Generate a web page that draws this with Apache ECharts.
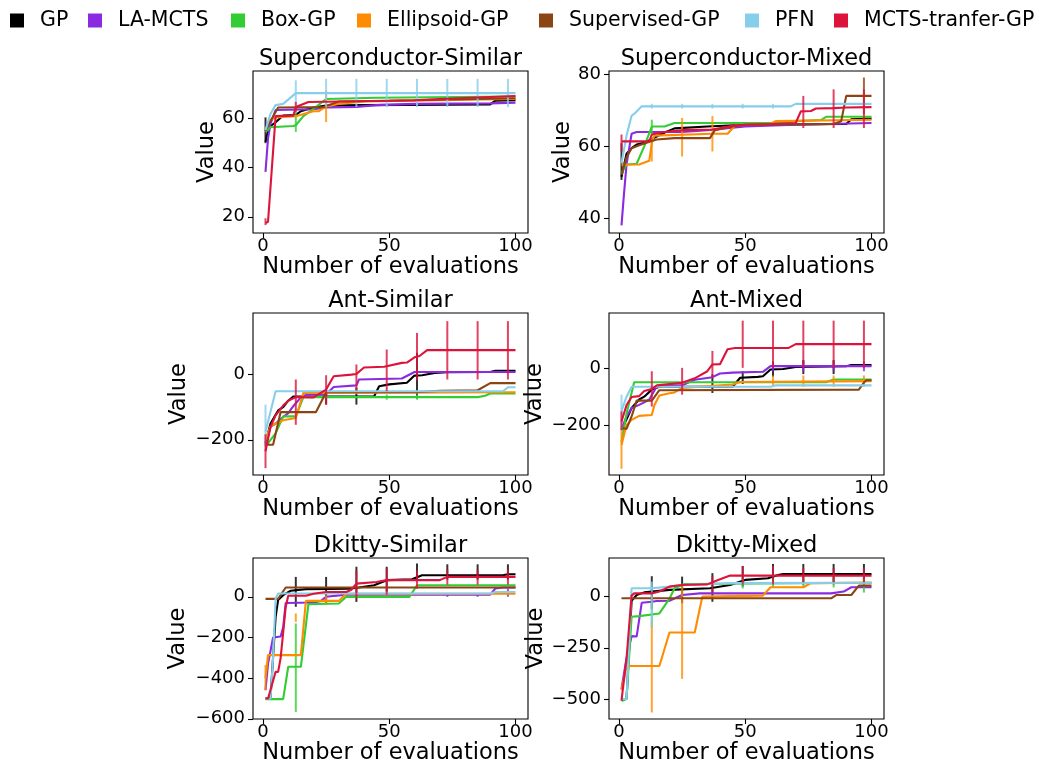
<!DOCTYPE html>
<html>
<head>
<meta charset="utf-8">
<script src="https://cdn.jsdelivr.net/npm/echarts@6/dist/echarts.min.js"></script>
<style>html,body{margin:0;padding:0;background:#fff}#c{width:1054px;height:769px}</style>
</head>
<body>
<div id="c"></div>
<script>
// ---------- labels ----------
const methods = ['GP','LA-MCTS','Box-GP','Ellipsoid-GP','Supervised-GP','PFN','MCTS-tranfer-GP'];
const titles = ['Superconductor-Similar','Superconductor-Mixed','Ant-Similar','Ant-Mixed','Dkitty-Similar','Dkitty-Mixed'];
const xTicks = [0, 50, 100];
const yTicks = [[20,40,60],[40,60,80],[-200,0],[-200,0],[-600,-400,-200,0],[-500,-250,0]];
const xRange = [-3.95, 104.95];
const yRanges = [[13.4,79.4],[36.0,80.9],[-308,189],[-377,196],[-601,191],[-598,189]];

// ---------- Superconductor-Similar ----------
const scs_GP = [[1,50.5],[2,55],[3,57],[5,58.5],[8,61.3],[13,61.5],[15,63],[20,64.5],[25,65.3],[40,65.5],[90,65.8],[92,67.3],[100,67.5]];
const scs_LA = [[1,38.3],[2,52],[3,58],[5,63.5],[20,63.8],[25,64.5],[37,64.8],[45,65.5],[60,66],[90,66.2],[100,66.5]];
const scs_Box = [[1,54.5],[3,56.5],[12,57],[13,57.3],[16,61],[20,64],[25,68],[45,68.5],[100,69]];
const scs_Ell = [[1,55.5],[3,59.5],[5,60.5],[13,61],[20,63],[22,63],[25,65],[30,66],[40,67],[70,67.5],[100,68]];
const scs_Sup = [[1,55],[3,59],[6,64.5],[24,64.7],[30,67],[60,67.5],[100,68.3]];
const scs_PFN = [[1,55.3],[3,62],[5,65.5],[8,66],[13,70.4],[100,70.4]];
const scs_MT = [[1,17.5],[2,18],[5,61],[12,61.2],[13,64.7],[18,66.8],[50,67.3],[60,67.5],[70,68],[95,69],[100,69.2]];
const scsE_GP = [[1,50,60.5]];
const scsE_LA = [];
const scsE_Box = [[13,54.6,62.7]];
const scsE_Ell = [[25,58.6,71.4]];
const scsE_Sup = [];
const scsE_PFN = [[13,65.5,75.6],[25,64.7,76.2],[37,64.7,76.2],[49,64.7,76.2],[61,64.7,76.2],[73,64.7,76.2],[85,64.7,76.2],[97,64.7,76.2]];
const scsE_MT = [[1,16.6,19.4],[13,62.7,66.8]];

// ---------- Superconductor-Mixed ----------
const scm_GP = [[1,51.6],[3,58],[5,59.5],[7,60.5],[10,61],[13,62],[17,63.5],[22,65],[35,65.5],[50,66],[90,66.2],[92,67.5],[100,67.7]];
const scm_LA = [[1,38.1],[2,47],[3,55],[5,63.5],[7,64],[25,64],[35,64.5],[45,65.2],[50,65.5],[70,66],[100,66.5]];
const scm_Box = [[1,52.6],[3,55],[7,55.2],[10,60],[13,65.5],[18,65.5],[22,66.5],[65,66.5],[70,67],[80,67.3],[82,68.2],[100,68.2]];
const scm_Ell = [[1,54.9],[8,55],[12,56],[13,61],[14,63],[37,63.5],[43,63.5],[46,65.8],[60,66.3],[62,67],[100,67.4]];
const scm_Sup = [[1,52.1],[3,57],[5,59.5],[8,60.3],[13,61.5],[15,61.9],[22,62.3],[36,62.3],[38,64.5],[45,65.5],[50,66],[85,66.2],[88,67],[90,74],[100,74]];
const scm_PFN = [[1,55.3],[3,63],[5,68.5],[6,69],[9,71.1],[68,71.1],[70,71.8],[100,71.8]];
const scm_MT = [[1,61.4],[12,61.4],[13,63.3],[18,64],[25,64.5],[37,64.7],[45,65.7],[50,66],[60,66.2],[70,66.5],[72,69.7],[76,69.8],[78,70.5],[85,70.6],[90,70.8],[100,70.9]];
const scmE_GP = [[1,50.7,60.9]];
const scmE_LA = [];
const scmE_Box = [[13,62.8,67.4]];
const scmE_Ell = [[13,55.8,62.3],[25,57.2,67.9],[37,58.6,68.4]];
const scmE_Sup = [[97,68.9,79.1]];
const scmE_PFN = [[13,70.5,71.8],[25,70.5,71.8],[37,70.5,71.8],[49,70.5,71.8],[61,70.5,71.8]];
const scmE_MT = [[1,58.6,63.3],[73,65.1,74],[85,65.1,75.8],[97,65.1,75.8]];

// ---------- Ant-Similar ----------
const ans_GP = [[1,-210],[3,-150],[6,-110],[8,-100],[10,-80],[12,-67],[44,-67],[46,-36],[50,-30],[57,-25],[60,-3],[63,-2],[68,5],[73,7],[90,8],[92,12],[100,12]];
const ans_LA = [[1,-215],[3,-160],[5,-150],[8,-130],[10,-118],[12,-97],[15,-70],[17,-62],[25,-60],[28,-38],[37,-33],[38,-15],[55,-12],[60,8],[100,8]];
const ans_Box = [[1,-220],[3,-200],[5,-180],[8,-128],[13,-128],[16,-69],[85,-69],[88,-65],[90,-58],[100,-58]];
const ans_Ell = [[1,-200],[3,-159],[5,-150],[8,-140],[13,-133],[16,-56],[100,-54]];
const ans_Sup = [[1,-205],[2,-215],[4,-215],[7,-115],[21,-115],[25,-54],[60,-54],[70,-50],[85,-48],[90,-26],[100,-26]];
const ans_PFN = [[1,-175],[5,-51],[95,-51],[97,-39],[100,-39]];
const ans_MT = [[1,-235],[3,-160],[5,-125],[8,-95],[10,-80],[13,-69],[20,-70],[25,-46],[28,-5],[35,0],[37,2],[40,22],[48,24],[55,36],[57,37],[60,53],[62,57],[65,75],[100,75]];
const ansE_GP = [[25,-92,-46],[37,-92,-40],[61,-73,67]];
const ansE_LA = [];
const ansE_Box = [[49,-77,-61],[61,-77,-61]];
const ansE_Ell = [];
const ansE_Sup = [];
const ansE_PFN = [[1,-220,-92]];
const ansE_MT = [[1,-287,-183],[13,-154,-15],[25,-92,-2],[37,-48,31],[49,-51,77],[61,-18,128],[73,-15,164],[85,-15,164],[97,-15,164]];

// ---------- Ant-Mixed ----------
const anm_GP = [[1,-218],[3,-180],[5,-140],[8,-110],[10,-100],[13,-75],[16,-65],[45,-65],[48,-33],[55,-30],[57,-28],[60,-4],[65,-2],[70,5],[90,8],[92,12],[100,12]];
const anm_LA = [[1,-215],[3,-170],[5,-140],[8,-129],[10,-120],[12,-110],[15,-63],[25,-60],[30,-40],[37,-31],[40,-18],[45,-15],[57,-12],[60,8],[100,8]];
const anm_Box = [[1,-260],[3,-160],[6,-49],[82,-49],[85,-39],[100,-39]];
const anm_Ell = [[1,-271],[3,-200],[5,-182],[8,-168],[13,-165],[14,-130],[16,-96],[20,-88],[22,-85],[25,-69],[45,-57],[48,-48],[100,-45]];
const anm_Sup = [[1,-210],[3,-214],[5,-170],[7,-114],[13,-114],[16,-77],[95,-75],[97,-50],[98,-42],[100,-42]];
const anm_PFN = [[1,-150],[3,-100],[5,-65],[60,-65],[62,-60],[100,-60]];
const anm_MT = [[1,-188],[3,-130],[5,-101],[8,-98],[10,-80],[13,-73],[15,-60],[25,-51],[30,-35],[35,-10],[37,14],[40,15],[43,68],[46,72],[67,72],[70,86],[100,86]];
const anmE_GP = [[37,-87,-21],[49,-55,-10],[61,-30,20],[73,-20,30],[85,-20,30]];
const anmE_LA = [[61,-10,25],[73,-10,25],[85,-10,25],[97,-10,25]];
const anmE_Box = [];
const anmE_Ell = [[1,-355,-218],[61,-65,-25],[73,-65,-25],[85,-65,-25],[97,-65,-25]];
const anmE_Sup = [];
const anmE_PFN = [[1,-218,-93]];
const anmE_MT = [[1,-218,-152],[13,-135,-10],[25,-93,2],[37,-33,62],[49,2,169],[61,2,169],[73,2,169],[85,2,169],[97,2,169]];

// ---------- Dkitty-Similar ----------
const dks_GP = [[1,-500],[3,-495],[5,-100],[6,-15],[8,8],[11,30],[17,38],[34,40],[38,46],[44,57],[49,82],[59,86],[63,106],[95,106],[97,111],[100,111]];
const dks_LA = [[1,-459],[2,-330],[4,-200],[7,-195],[8,-150],[9,-30],[20,-28],[23,-20],[25,0],[33,11],[90,11],[92,41],[95,46],[100,46]];
const dks_Box = [[1,-503],[8,-503],[10,-344],[15,-344],[18,-36],[30,-33],[33,0],[58,0],[61,57],[100,57]];
const dks_Ell = [[1,-400],[2,-287],[15,-287],[17,-20],[30,-20],[33,15],[100,15]];
const dks_Sup = [[1,-10],[6,-10],[9,46],[100,46]];
const dks_PFN = [[1,-500],[3,-500],[4,-300],[5,-8],[6,16],[90,16],[92,24],[100,24]];
const dks_MT = [[1,-500],[2,-500],[5,-369],[6,-369],[7,-300],[9,-50],[10,5],[17,5],[20,15],[25,24],[33,24],[35,35],[37,65],[45,73],[49,82],[70,82],[73,98],[100,98]];
const dksE_GP = [[13,-49,98],[25,-33,98],[37,-25,148],[49,25,148],[61,82,164],[73,85,160],[85,85,160],[97,85,160]];
const dksE_LA = [[73,0,15],[85,0,15],[97,0,40]];
const dksE_Box = [[13,-566,-131]];
const dksE_Ell = [[1,-460,-335],[13,-123,-82],[25,-33,8]];
const dksE_Sup = [];
const dksE_PFN = [];
const dksE_MT = [[37,-8,130],[49,10,140],[61,40,130],[73,60,135],[85,60,135],[97,60,135]];

// ---------- Dkitty-Mixed ----------
const dkm_GP = [[1,-500],[3,-500],[5,-20],[7,8],[10,21],[20,33],[36,41],[44,57],[50,82],[59,90],[63,106],[65,110],[100,111]];
const dkm_LA = [[1,-451],[3,-300],[5,-193],[7,-195],[9,-30],[13,-25],[15,-21],[20,-20],[25,8],[32,16],[84,16],[89,25],[92,46],[100,46]];
const dkm_Box = [[1,-510],[3,-500],[5,-98],[8,-95],[16,-82],[20,-10],[22,41],[26,62],[100,68]];
const dkm_Ell = [[1,-456],[3,-339],[16,-339],[20,-175],[30,-175],[33,0],[57,5],[60,46],[73,46],[76,66],[100,68]];
const dkm_Sup = [[1,-8],[84,-8],[86,8],[92,8],[95,54],[100,54]];
const dkm_PFN = [[1,-500],[3,-500],[5,41],[13,41],[20,49],[24,57],[35,62],[45,66],[100,68]];
const dkm_MT = [[1,-508],[3,-300],[5,5],[6,16],[13,16],[16,25],[20,49],[25,57],[35,60],[39,80],[44,103],[100,103]];
const dkmE_GP = [[13,-60,100],[25,-32,98],[37,-25,115],[49,50,150],[61,60,160],[73,60,160],[85,60,160],[97,70,160]];
const dkmE_LA = [];
const dkmE_Box = [[13,-150,-20],[49,40,90],[61,45,90],[73,45,90],[85,45,90],[97,20,90]];
const dkmE_Ell = [[13,-566,-120],[25,-402,57]];
const dkmE_Sup = [];
const dkmE_PFN = [[13,-148,74]];
const dkmE_MT = [[37,20,100],[49,60,150],[61,60,150],[73,70,140],[85,70,140],[97,70,140]];

const panelLines = [
  [scs_GP,scs_LA,scs_Box,scs_Ell,scs_Sup,scs_PFN,scs_MT],
  [scm_GP,scm_LA,scm_Box,scm_Ell,scm_Sup,scm_PFN,scm_MT],
  [ans_GP,ans_LA,ans_Box,ans_Ell,ans_Sup,ans_PFN,ans_MT],
  [anm_GP,anm_LA,anm_Box,anm_Ell,anm_Sup,anm_PFN,anm_MT],
  [dks_GP,dks_LA,dks_Box,dks_Ell,dks_Sup,dks_PFN,dks_MT],
  [dkm_GP,dkm_LA,dkm_Box,dkm_Ell,dkm_Sup,dkm_PFN,dkm_MT]
];
const panelErrs = [
  [scsE_GP,scsE_LA,scsE_Box,scsE_Ell,scsE_Sup,scsE_PFN,scsE_MT],
  [scmE_GP,scmE_LA,scmE_Box,scmE_Ell,scmE_Sup,scmE_PFN,scmE_MT],
  [ansE_GP,ansE_LA,ansE_Box,ansE_Ell,ansE_Sup,ansE_PFN,ansE_MT],
  [anmE_GP,anmE_LA,anmE_Box,anmE_Ell,anmE_Sup,anmE_PFN,anmE_MT],
  [dksE_GP,dksE_LA,dksE_Box,dksE_Ell,dksE_Sup,dksE_PFN,dksE_MT],
  [dkmE_GP,dkmE_LA,dkmE_Box,dkmE_Ell,dkmE_Sup,dkmE_PFN,dkmE_MT]
];

// ---------- styles & layout ----------
const colors = ['#000000','#8A2BE2','#32CD32','#FF8C00','#8B4513','#87CEEB','#DC143C'];
const FONT = 'DejaVu Sans';
const grids = [
  {left:253, top:71, width:275, height:162},
  {left:609, top:71, width:275, height:162},
  {left:253, top:313, width:275, height:162},
  {left:609, top:313, width:275, height:162},
  {left:253, top:558, width:275, height:161},
  {left:609, top:558, width:275, height:161}
];
const yNameGaps = [46, 45, 74, 74, 75, 73];
const titleY = [59, 59, 301, 301, 546, 546];
const legendLefts = [10, 88, 231, 357, 539, 745, 834];
const minus = v => String(v).replace('-', '\u2212');

const xAxes = grids.map((g, i) => ({
  type: 'value', gridIndex: i, min: xRange[0], max: xRange[1], position: 'bottom',
  name: 'Number of evaluations', nameLocation: 'middle', nameGap: 34,
  nameTextStyle: {fontSize: 22.5, color: '#000', fontFamily: FONT, verticalAlign: 'middle'},
  axisLine: {show: false, onZero: false},
  axisTick: {show: true, inside: false, length: 5, customValues: xTicks, lineStyle: {color: '#000', width: 1.1}},
  axisLabel: {customValues: xTicks, fontSize: 18, color: '#000', fontFamily: FONT, margin: 13, verticalAlign: 'middle'},
  splitLine: {show: false}
}));
const yAxes = grids.map((g, i) => ({
  type: 'value', gridIndex: i, min: yRanges[i][0], max: yRanges[i][1], position: 'left',
  name: 'Value', nameLocation: 'middle', nameGap: yNameGaps[i], nameRotate: 90,
  nameTextStyle: {fontSize: 22.5, color: '#000', fontFamily: FONT, verticalAlign: 'middle'},
  axisLine: {show: false, onZero: false},
  axisTick: {show: true, inside: false, length: 5, customValues: yTicks[i], lineStyle: {color: '#000', width: 1.1}},
  axisLabel: {customValues: yTicks[i], fontSize: 18, color: '#000', fontFamily: FONT, margin: 8, formatter: minus},
  splitLine: {show: false}
}));

const series = [];
panelLines.forEach((lines, p) => {
  lines.forEach((data, m) => {
    series.push({
      type: 'line', name: methods[m], xAxisIndex: p, yAxisIndex: p, data: data,
      showSymbol: false, symbol: 'none', animation: false, clip: true,
      lineStyle: {width: 2.1, color: colors[m]}, itemStyle: {color: colors[m]},
      z: 2 + m * 0.01
    });
    const errs = panelErrs[p][m];
    if (errs.length) {
      series.push({
        type: 'custom', name: methods[m], xAxisIndex: p, yAxisIndex: p, data: errs,
        encode: {x: 0, y: [1, 2]}, animation: false, z: 2 + m * 0.01 + 0.005,
        itemStyle: {color: colors[m]},
        renderItem: (params, api) => {
          const a = api.coord([api.value(0), api.value(1)]);
          const b = api.coord([api.value(0), api.value(2)]);
          return {type: 'line', shape: {x1: a[0], y1: a[1], x2: b[0], y2: b[1]},
                  style: {stroke: colors[m], lineWidth: 2, opacity: 0.8}};
        }
      });
    }
  });
});

const option = {
  backgroundColor: '#fff',
  animation: false,
  textStyle: {fontFamily: FONT},
  grid: grids.map(g => Object.assign({show: true, borderColor: '#000', borderWidth: 1.1, backgroundColor: 'transparent', containLabel: false}, g)),
  xAxis: xAxes,
  yAxis: yAxes,
  legend: methods.map((name, i) => ({
    data: [{name: name, itemStyle: {color: colors[i]}}],
    left: legendLefts[i], top: 10, padding: 0, icon: 'rect', itemWidth: 14, itemHeight: 14,
    textStyle: {fontSize: 20.5, color: '#000', fontFamily: FONT, padding: [0, 0, 0, 11]}
  })),
  graphic: titles.map((t, i) => ({
    type: 'text', x: grids[i].left + grids[i].width / 2, y: titleY[i],
    style: {text: t, fontSize: 22.5, fontFamily: FONT, fill: '#000', align: 'center', verticalAlign: 'middle'}
  })),
  series: series
};

const chart = echarts.init(document.getElementById('c'), null, {renderer: 'canvas'});
chart.setOption(option);
</script>
</body>
</html>
